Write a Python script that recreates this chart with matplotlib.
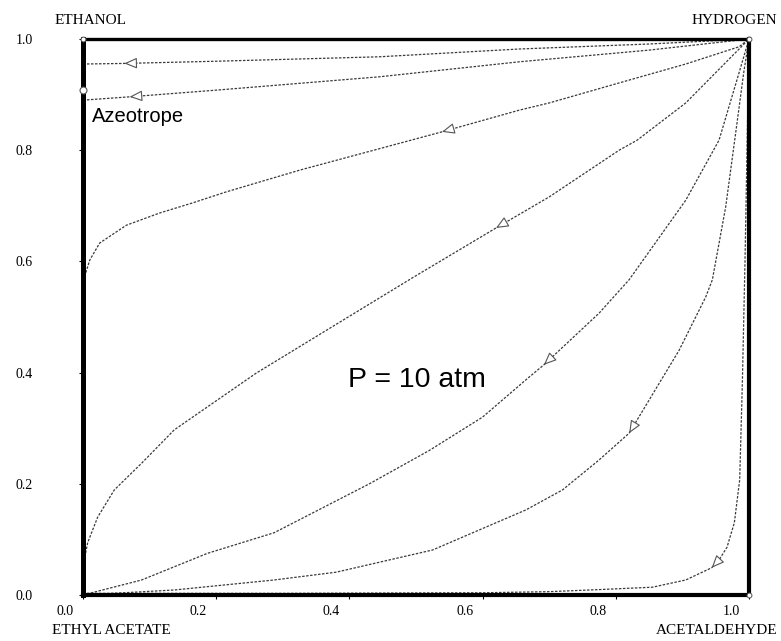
import numpy as np
import matplotlib
matplotlib.use("Agg")
import matplotlib.pyplot as plt
from matplotlib.transforms import ScaledTranslation

# Residue curves at P = 10 atm, all leaving the hydrogen vertex (1, 1)
curve1_x = [0.0, 0.06, 0.2, 0.445, 0.655, 0.85, 1.0]
curve1_y = [0.955, 0.956, 0.960, 0.968, 0.982, 0.991, 1.0]

curve2_x = [0.0, 0.07, 0.2, 0.445, 0.655, 0.85, 1.0]
curve2_y = [0.890, 0.896, 0.908, 0.932, 0.959, 0.980, 1.0]

curve3_x = [0.0, 0.0, 0.003, 0.01, 0.025, 0.065, 0.115, 0.164, 0.215, 0.26, 0.325,
            0.539, 0.655, 0.70, 0.805, 0.905, 0.985, 1.0]
curve3_y = [0.53, 0.557, 0.575, 0.602, 0.633, 0.665, 0.687, 0.705, 0.725, 0.741, 0.764,
            0.833, 0.872, 0.885, 0.921, 0.955, 0.986, 1.0]

curve4_x = [0.0, 0.003, 0.007, 0.022, 0.047, 0.088, 0.137, 0.26, 0.494, 0.62, 0.70,
            0.805, 0.832, 0.905, 1.0]
curve4_y = [0.04, 0.07, 0.094, 0.14, 0.189, 0.237, 0.297, 0.399, 0.570, 0.66, 0.716,
            0.80, 0.818, 0.885, 1.0]

curve5_x = [0.0, 0.088, 0.187, 0.287, 0.43, 0.52, 0.60, 0.665, 0.692, 0.775, 0.82,
            0.905, 0.955, 0.985, 1.0]
curve5_y = [0.0, 0.027, 0.075, 0.112, 0.20, 0.26, 0.32, 0.387, 0.414, 0.507, 0.567,
            0.71, 0.818, 0.939, 1.0]

curve6_x = [0.0, 0.137, 0.212, 0.287, 0.38, 0.525, 0.665, 0.72, 0.775, 0.82, 0.895,
            0.935, 0.945, 0.965, 0.982, 0.992, 1.0]
curve6_y = [0.0, 0.009, 0.018, 0.027, 0.041, 0.081, 0.153, 0.189, 0.243, 0.291, 0.44,
            0.536, 0.567, 0.698, 0.849, 0.939, 1.0]

curve7_x = [0.0, 0.3, 0.6, 0.7, 0.78, 0.855, 0.905, 0.944, 0.955, 0.967, 0.978,
            0.986, 0.990, 0.994, 0.997, 1.0]
curve7_y = [0.003, 0.003, 0.004, 0.006, 0.010, 0.014, 0.027, 0.049, 0.063, 0.086, 0.13,
            0.207, 0.38, 0.60, 0.80, 1.0]

# where the direction arrow sits on each curve (x position)
arrow_x = [0.062, 0.07, 0.539, 0.62, 0.692, 0.82, 0.944]

tick_values = [0.0, 0.2, 0.4, 0.6, 0.8, 1.0]
tick_labels = ["0.0", "0.2", "0.4", "0.6", "0.8", "1.0"]

azeotrope_y = 0.908

curves = [
    (curve1_x, curve1_y), (curve2_x, curve2_y), (curve3_x, curve3_y),
    (curve4_x, curve4_y), (curve5_x, curve5_y), (curve6_x, curve6_y),
    (curve7_x, curve7_y),
]

W, H = 781, 641
fig = plt.figure(figsize=(W / 100, H / 100), dpi=100)
ax = fig.add_axes([83 / W, 46 / H, 666 / W, 556 / H])
ax.set_xlim(0, 1)
ax.set_ylim(0, 1)

line_color = "#3a3a3a"
for cx, cy in curves:
    ax.plot(cx, cy, color=line_color, lw=0.9, ls=(0, (2, 1.2)),
            clip_on=False, zorder=2)

# open arrowheads pointing away from the hydrogen vertex
fig.canvas.draw()
for (cx, cy), xa in zip(curves, arrow_x):
    cx = np.asarray(cx)
    cy = np.asarray(cy)
    ya = np.interp(xa, cx, cy)
    yb = np.interp(xa + 0.01, cx, cy)
    pa = ax.transData.transform((xa, ya))
    pb = ax.transData.transform((xa + 0.01, yb))
    d = pb - pa
    d = d / np.hypot(*d) * 9.0
    tail = ax.transData.inverted().transform(pa + d)
    ax.annotate("", xy=(xa, ya), xytext=tail,
                arrowprops=dict(arrowstyle="-|>,head_length=0.7,head_width=0.3",
                                fc="white", ec="#555555", lw=0.8,
                                shrinkA=0, shrinkB=0, mutation_scale=11),
                zorder=3)

# vertex and azeotrope markers
ax.plot([0], [azeotrope_y], marker="o", ms=5, mfc="white", mec="#555555",
        mew=0.8, clip_on=False, zorder=5)
ax.plot([0, 1, 1], [1, 1, 0], ls="none", marker="o", ms=3.5, mfc="white",
        mec="#555555", mew=0.7, clip_on=False, zorder=5)

# frame
for side, lw in (("left", 3.6), ("bottom", 3.0), ("top", 2.4), ("right", 3.0)):
    ax.spines[side].set_linewidth(lw)
    ax.spines[side].set_color("black")

serif = "Liberation Serif"
ax.set_xticks(tick_values)
ax.set_xticklabels(tick_labels, family=serif, fontsize=10)
ax.set_yticks(tick_values)
ax.set_yticklabels(tick_labels, family=serif, fontsize=10)
ax.tick_params(axis="both", direction="out", length=3, width=0.8)
ax.tick_params(axis="x", pad=4)
ax.tick_params(axis="y", pad=33)
shift = ScaledTranslation(-18 / 100, 0, fig.dpi_scale_trans)
for lab in ax.get_xticklabels():
    lab.set_transform(lab.get_transform() + shift)

# component names at the corners
fig.text(91 / W, 1 - 20 / H, "ETHANOL", family=serif, fontsize=11,
         ha="center", va="center")
fig.text(777 / W, 1 - 20 / H, "HYDROGEN", family=serif, fontsize=11,
         ha="right", va="center")
fig.text(52 / W, 1 - 630 / H, "ETHYL ACETATE", family=serif, fontsize=11,
         ha="left", va="center")
fig.text(777 / W, 1 - 630 / H, "ACETALDEHYDE", family=serif, fontsize=11,
         ha="right", va="center")

sans = "Liberation Sans"
ax.text(0.013, 0.851, "Azeotrope", family=sans, fontsize=14.5,
        ha="left", va="baseline")
ax.text(0.502, 0.387, "P = 10 atm", family=sans, fontsize=20.5,
        ha="center", va="center")

fig.savefig("out.png", dpi=100)
